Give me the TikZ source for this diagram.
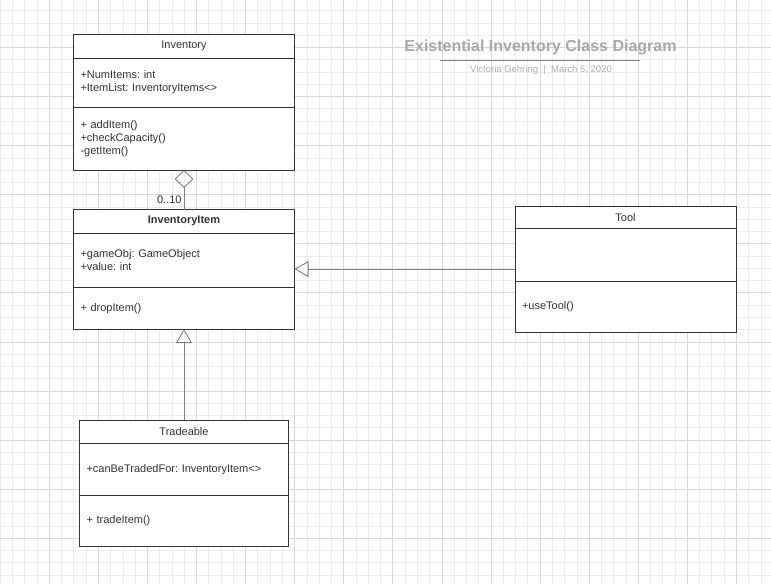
\documentclass[tikz,border=0pt]{standalone}
\usepackage{fontspec}
\setmainfont{Liberation Sans}
\frenchspacing
\usetikzlibrary{positioning,fit,arrows.meta}
\definecolor{boxline}{RGB}{51,51,51}
\definecolor{connline}{RGB}{128,128,128}
\definecolor{gridminor}{RGB}{236,236,236}
\definecolor{gridmajor}{RGB}{216,216,216}
\definecolor{titlegray}{RGB}{168,168,168}
\definecolor{subgray}{RGB}{176,176,176}
\tikzset{
  cls/.style={rectangle, draw=boxline, line width=1pt, fill=white, outer sep=0pt,
    inner xsep=7pt, inner ysep=0pt, text width=207pt, minimum width=221pt,
    align=left, text=boxline, font=\fontsize{11}{13.3}\selectfont},
  clshead/.style={cls, align=center},
  narrow/.style={text width=195pt, minimum width=209pt},
  gen/.style={draw=connline, line width=0.9pt, -{Triangle[open, length=14pt, width=16pt]}},
  agg/.style={draw=connline, line width=0.9pt, -{Diamond[open, length=18pt, width=19pt]}},
  box/.style={inner sep=0pt, outer sep=0pt}
}
\begin{document}
\begin{tikzpicture}[x=1pt, y=-1pt]
  \useasboundingbox (0,0) rectangle (771,584);
  \fill[white] (0,0) rectangle (771,584);
  % grid
  \foreach \k in {0,...,62}
    \draw[gridminor, line width=0.8pt] ({0.22+12.27*\k},0) -- ({0.22+12.27*\k},584);
  \foreach \k in {1,...,47}
    \draw[gridminor, line width=0.8pt] (0,{-1.6+12.27*\k}) -- (771,{-1.6+12.27*\k});
  \foreach \k in {4,8,...,60}
    \draw[gridmajor, line width=0.8pt] ({0.22+12.27*\k},0) -- ({0.22+12.27*\k},584);
  \foreach \k in {4,8,...,44}
    \draw[gridmajor, line width=0.8pt] (0,{-1.6+12.27*\k}) -- (771,{-1.6+12.27*\k});

  % title
  \node[font=\fontsize{16}{19}\selectfont\bfseries, text=titlegray] (title) at (540.5,47) {Existential Inventory Class Diagram};
  \coordinate (rule-l) at (440,60.5);
  \coordinate (rule-r) at (640,60.5);
  \draw[connline, line width=0.9pt] (rule-l) -- (rule-r);
  \node[font=\fontsize{9.5}{11}\selectfont, text=subgray] (subtitle) at (541,70) {Victoria Gehring\ \ |\ \ March 5, 2020};

  % Inventory
  \node[clshead, anchor=north west, minimum height=23.5pt] (inv) at (73.5,34.5) {Inventory};
  \node[cls, below=0pt of inv, minimum height=49pt] (inv-attr) {+NumItems: int\\+ItemList: InventoryItems<>};
  \node[cls, below=0pt of inv-attr, minimum height=63pt] (inv-ops) {+ addItem()\\+checkCapacity()\\-getItem()};

  % InventoryItem
  \node[clshead, anchor=north west, minimum height=23.5pt, font=\fontsize{11}{13.3}\selectfont\bfseries] (item) at (73.5,209.5) {InventoryItem};
  \node[cls, below=0pt of item, minimum height=54.5pt] (item-attr) {+gameObj: GameObject\\+value: int};
  \node[cls, below=0pt of item-attr, minimum height=41.5pt] (item-ops) {+ dropItem()};
  \node[box, fit=(item)(item-ops)] (item-box) {};

  % Tool
  \node[clshead, anchor=north west, minimum height=22.5pt] (tool) at (515,206) {Tool};
  \node[cls, below=0pt of tool, minimum height=52.5pt] (tool-attr) {};
  \node[cls, below=0pt of tool-attr, minimum height=51pt] (tool-ops) {+useTool()};
  \node[box, fit=(tool)(tool-ops)] (tool-box) {};

  % Tradeable
  \node[clshead, narrow, anchor=north west, minimum height=23.5pt] (trade) at (79.5,420) {Tradeable};
  \node[cls, narrow, below=0pt of trade, minimum height=51.5pt] (trade-attr) {+canBeTradedFor: InventoryItem<>};
  \node[cls, narrow, below=0pt of trade-attr, minimum height=51.5pt] (trade-ops) {+ tradeItem()};

  % relations
  \draw[agg] (item.north) -- node[left, pos=0.24, inner sep=2pt, text=boxline, font=\fontsize{11}{13}\selectfont] {0..10} (inv-ops.south);
  \draw[gen] (tool-box.west) -- (tool-box.west -| item-box.east);
  \draw[gen] (trade.north) -- (item-ops.south);
\end{tikzpicture}
\end{document}
